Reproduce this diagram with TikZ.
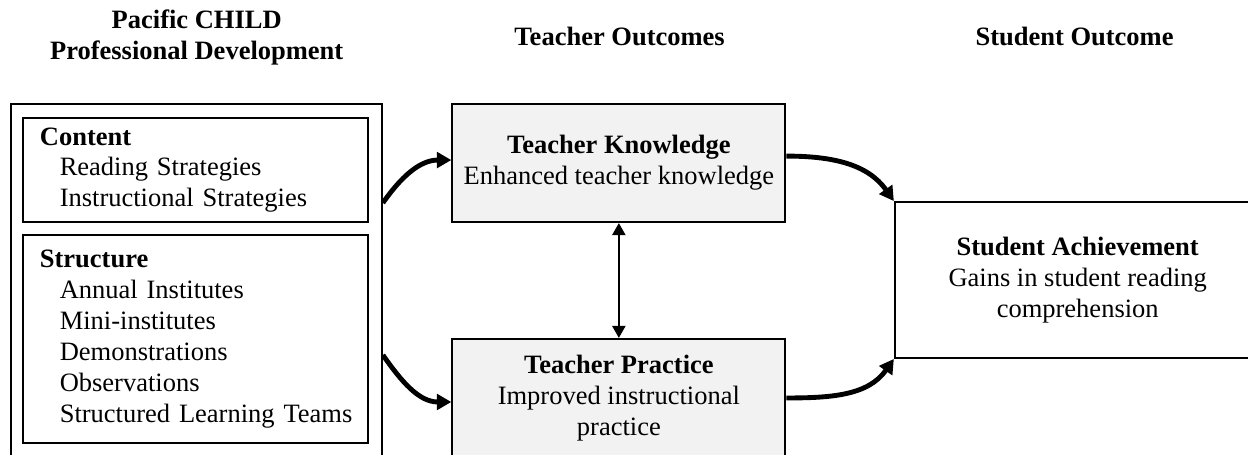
\documentclass[tikz,border=0pt]{standalone}
\usepackage{fontspec}
\setmainfont{Liberation Serif}
\usetikzlibrary{arrows.meta}
\tikzset{
  frame/.style={draw,line width=0.9pt,inner sep=0pt},
  listbox/.style={draw,line width=0.9pt,align=left,text width=4.95cm,
    inner xsep=0.27cm,inner ysep=0pt,minimum height=#1},
  outbox/.style={draw,line width=0.9pt,fill=black!5,align=center,
    minimum width=5.3cm,minimum height=1.88cm},
  goalbox/.style={draw,line width=0.9pt,align=center,
    minimum width=5.82cm,minimum height=2.48cm},
  colhead/.style={align=center},
  flow/.style={-{Triangle[length=6.5pt,width=7pt]},line width=2.2pt},
  link/.style={{Triangle[length=5.5pt,width=6pt]}-{Triangle[length=5.5pt,width=6pt]},line width=0.9pt},
}
\newcommand{\ind}{\hspace*{0.75em}}

\begin{document}
\begin{tikzpicture}[font=\fontsize{12}{14}\selectfont]
  \useasboundingbox (0,0) rectangle (19.86,7.24);
  \clip (0,0) rectangle (19.86,7.24);
  % column headings
  \node[colhead] (hpd) at (3.13,6.64) {\textbf{Pacific CHILD}\\\textbf{Professional Development}};
  \node[colhead] (hto) at (9.86,6.66) {\textbf{Teacher Outcomes}};
  \node[colhead] (hso) at (17.10,6.66) {\textbf{Student Outcome}};
  % left: professional development with its two parts
  \node[frame,minimum width=5.90cm,minimum height=5.70cm] (pd) at (3.127,2.737) {};
  \node[listbox=1.655cm] (cnt) at (3.110,4.534)
    {\textbf{Content}\\\ind Reading Strategies\\\ind Instructional Strategies};
  \node[listbox=3.31cm] (str) at (3.110,1.846)
    {\textbf{Structure}\\\ind Annual Institutes\\\ind Mini-institutes\\\ind Demonstrations\\\ind Observations\\\ind\mbox{Structured Learning Teams}};
  % middle: teacher outcomes
  \node[outbox] (tk) at (9.848,4.646) {\textbf{Teacher Knowledge}\\Enhanced teacher knowledge};
  \node[outbox] (tp) at (9.848,0.907) {\textbf{Teacher Practice}\\Improved instructional\\practice};
  % right: student outcome
  \node[goalbox] (sa) at (17.15,2.784) {\textbf{Student Achievement}\\Gains in student reading\\comprehension};
  % connectors
  \draw[flow] ([yshift=1.274cm]pd.east) to[out=55,in=180] ([yshift=0.047cm]tk.west);
  \draw[flow] ([yshift=-1.146cm]pd.east) to[out=-55,in=180] ([yshift=-0.064cm]tp.west);
  \draw[link] (tk.south) -- (tp.north);
  \draw[flow] ([yshift=0.11cm]tk.east) to[out=0,in=125] (sa.north west);
  \draw[flow] (tp.east) to[out=0,in=-125] (sa.south west);
\end{tikzpicture}
\end{document}
